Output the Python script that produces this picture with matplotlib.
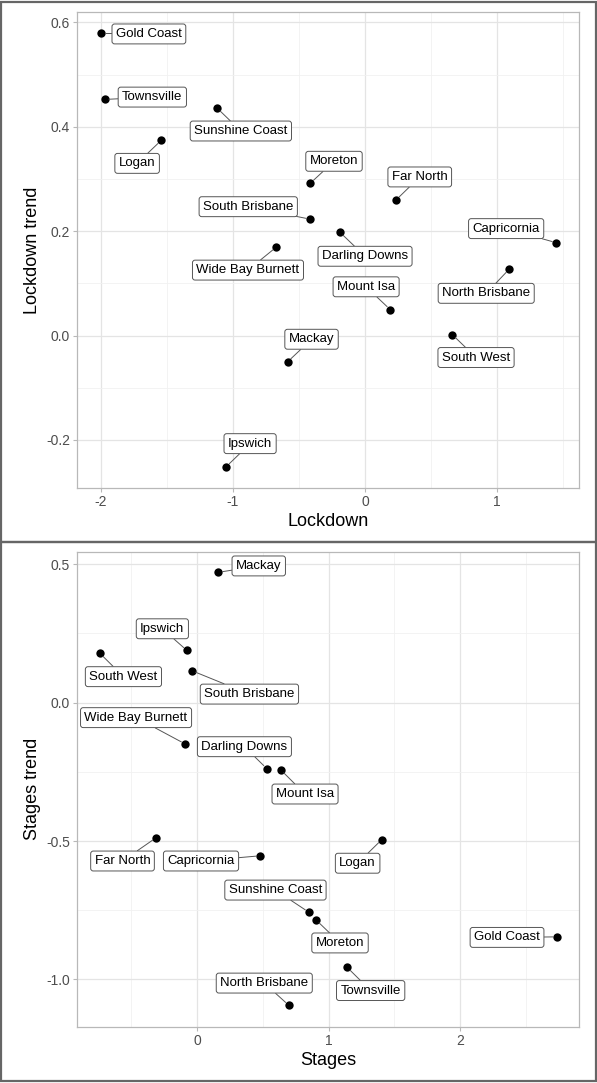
import matplotlib
matplotlib.use("Agg")
import matplotlib.pyplot as plt
from matplotlib.patches import Rectangle
from matplotlib.ticker import MultipleLocator, FormatStrFormatter

plt.rcParams['font.family'] = ['Liberation Sans', 'DejaVu Sans']
plt.rcParams['axes.unicode_minus'] = False

# data
regions = ["Gold Coast", "Townsville", "Sunshine Coast", "Logan", "Moreton",
           "Far North", "South Brisbane", "Darling Downs", "Wide Bay Burnett",
           "Capricornia", "North Brisbane", "Mount Isa", "South West", "Mackay",
           "Ipswich"]

lockdown = [-1.995, -1.97, -1.12, -1.543, -0.414, 0.235, -0.414, -0.19,
            -0.672, 1.447, 1.09, 0.19, 0.66, -0.585, -1.05]
lockdown_trend = [0.579, 0.4525, 0.436, 0.374, 0.292, 0.26, 0.223, 0.198,
                  0.1695, 0.178, 0.127, 0.050, 0.002, -0.050, -0.251]

stages = [2.738, 1.141, 0.85, 1.404, 0.905, -0.312, -0.04, 0.53,
          -0.091, 0.482, 0.697, 0.637, -0.738, 0.162, -0.078]
stages_trend = [-0.846, -0.956, -0.757, -0.495, -0.785, -0.488, 0.1156, -0.238,
                -0.149, -0.553, -1.093, -0.243, 0.178, 0.471, 0.189]

# where the (repelled) labels sit, in data units
label_pos_top = {
    "Gold Coast": (-1.636, 0.578), "Townsville": (-1.61, 0.457),
    "Sunshine Coast": (-0.94, 0.392), "Logan": (-1.725, 0.330),
    "Moreton": (-0.235, 0.334), "Far North": (0.414, 0.304),
    "South Brisbane": (-0.884, 0.247), "Darling Downs": (0.0, 0.152),
    "Wide Bay Burnett": (-0.886, 0.1255), "Capricornia": (1.068, 0.205),
    "North Brisbane": (0.917, 0.081), "Mount Isa": (0.008, 0.0935),
    "South West": (0.84, -0.042), "Mackay": (-0.405, -0.007),
    "Ipswich": (-0.87, -0.207),
}
label_pos_bottom = {
    "Gold Coast": (2.357, -0.848), "Townsville": (1.32, -1.04),
    "Sunshine Coast": (0.596, -0.677), "Logan": (1.221, -0.580),
    "Moreton": (1.087, -0.868), "Far North": (-0.567, -0.572),
    "South Brisbane": (0.398, 0.031), "Darling Downs": (0.36, -0.159),
    "Wide Bay Burnett": (-0.464, -0.054), "Capricornia": (0.03, -0.572),
    "North Brisbane": (0.511, -1.013), "Mount Isa": (0.821, -0.33),
    "South West": (-0.56, 0.094), "Mackay": (0.469, 0.494),
    "Ipswich": (-0.264, 0.267),
}


def style_axes(ax, major_x, major_y):
    ax.xaxis.set_major_locator(MultipleLocator(major_x))
    ax.xaxis.set_minor_locator(MultipleLocator(major_x / 2))
    ax.yaxis.set_major_locator(MultipleLocator(major_y))
    ax.yaxis.set_minor_locator(MultipleLocator(major_y / 2))
    ax.xaxis.set_major_formatter(FormatStrFormatter('%g'))
    ax.yaxis.set_major_formatter(FormatStrFormatter('%.1f'))
    ax.grid(which='major', color='#e4e4e4', lw=0.9)
    ax.grid(which='minor', color='#f1f1f1', lw=0.6)
    ax.set_axisbelow(True)
    for s in ax.spines.values():
        s.set_color('#b8b8b8')
        s.set_linewidth(0.9)
    ax.tick_params(which='major', color='#b8b8b8', length=3, width=0.8,
                   labelcolor='#4d4d4d', labelsize=10, pad=2)
    ax.tick_params(which='minor', length=0)


def scatter_panel(ax, xs, ys, label_pos):
    ax.scatter(xs, ys, s=36, color='black', zorder=3, linewidths=0)
    for name, x, y in zip(regions, xs, ys):
        lx, ly = label_pos[name]
        ax.annotate(name, xy=(x, y), xytext=(lx, ly), textcoords='data',
                    ha='center', va='center', fontsize=9.5, zorder=4,
                    bbox=dict(boxstyle='round,pad=0.3,rounding_size=0.2',
                              fc='white', ec='#555555', lw=0.7),
                    arrowprops=dict(arrowstyle='-', color='#555555', lw=0.7,
                                    shrinkA=0, shrinkB=3))


fig = plt.figure(figsize=(5.97, 10.83), dpi=100)

ax1 = fig.add_axes([0.129, 0.5494, 0.841, 0.4395])
scatter_panel(ax1, lockdown, lockdown_trend, label_pos_top)
ax1.set_xlim(-2.18, 1.62)
ax1.set_ylim(-0.292, 0.62)
style_axes(ax1, 1, 0.2)
ax1.set_xlabel("Lockdown", fontsize=13, labelpad=3)
ax1.set_ylabel("Lockdown trend", fontsize=13, labelpad=4)

ax2 = fig.add_axes([0.129, 0.052, 0.841, 0.4386])
scatter_panel(ax2, stages, stages_trend, label_pos_bottom)
ax2.set_xlim(-0.913, 2.905)
ax2.set_ylim(-1.1705, 0.5455)
style_axes(ax2, 1, 0.5)
ax2.set_xlabel("Stages", fontsize=13, labelpad=3)
ax2.set_ylabel("Stages trend", fontsize=13, labelpad=4)

# outer frames around each panel
fig.add_artist(Rectangle((0.002, 0.5), 0.996, 0.498, transform=fig.transFigure,
                         fill=False, ec='#666666', lw=1.6))
fig.add_artist(Rectangle((0.002, 0.002), 0.996, 0.498, transform=fig.transFigure,
                         fill=False, ec='#666666', lw=1.6))

fig.savefig("out.png", dpi=100)
